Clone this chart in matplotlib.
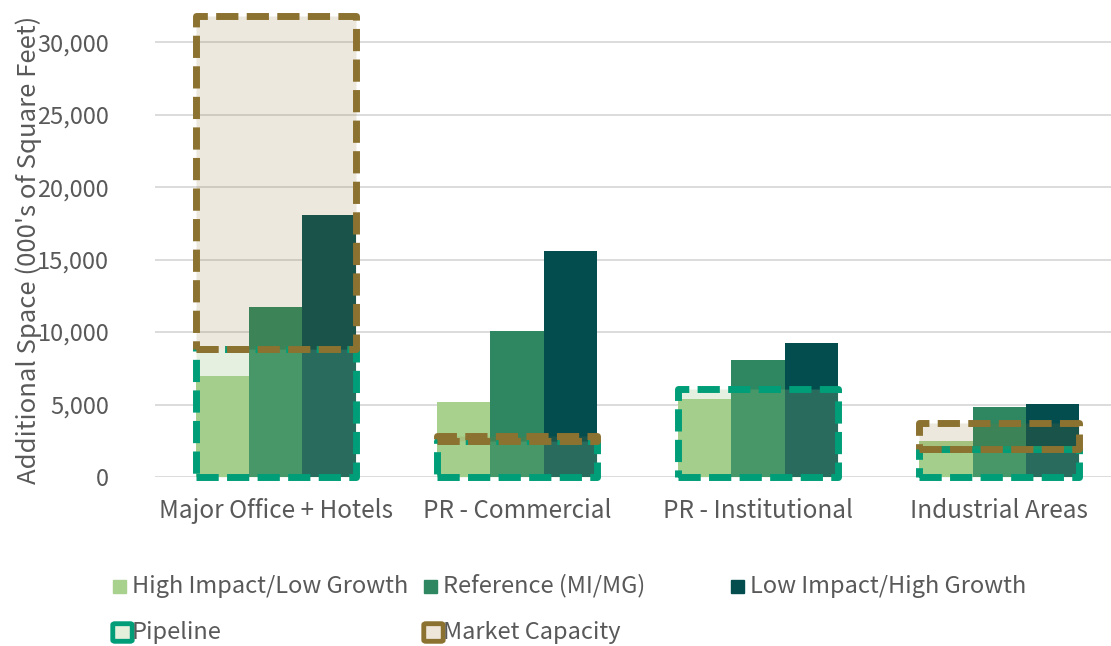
import numpy as np
import matplotlib.pyplot as plt
from matplotlib.patches import Rectangle, FancyBboxPatch

plt.rcParams['font.family'] = ['Noto Sans CJK JP', 'DejaVu Sans']

# dane
categories = ['Major Office + Hotels', 'PR - Commercial', 'PR - Institutional', 'Industrial Areas']
high_low = [7000, 5200, 5350, 2450]
reference = [11700, 10100, 8050, 4800]
low_high = [18100, 15600, 9250, 5050]
pipeline = [8800, 2450, 6100, 1900]
market_capacity = [23000, 400, 0, 1850]  # ułożone na pipeline

c_light = '#a9d18e'
c_ref = '#2e8760'
c_dark = '#044d4f'
c_pipe = '#009e78'
c_mc = '#8c7230'
txt = '#595959'
fs = 17

fig = plt.figure(figsize=(11.11, 6.46), dpi=100)
ax = fig.add_axes([155 / 1111, 169 / 646, 965 / 1111, 471 / 646])

x = np.arange(len(categories))
w = 0.221

ax.bar(x - w, high_low, w, color=c_light, zorder=2)
ax.bar(x, reference, w, color=c_ref, zorder=2)
ax.bar(x + w, low_high, w, color=c_dark, zorder=2)

dash = (0, (3.2, 1.2))
pb = ax.bar(x, pipeline, 3 * w, color=(0.60, 0.78, 0.52, 0.25), edgecolor=c_pipe,
            linewidth=5, linestyle=dash, zorder=3)
mb = ax.bar(x, market_capacity, 3 * w, bottom=pipeline, color=(0.55, 0.45, 0.19, 0.16),
            edgecolor=c_mc, linewidth=5, linestyle=dash, zorder=4)
for r in list(pb) + list(mb):
    r.set_clip_on(False)
    r.set_joinstyle('round')
for r, v in zip(mb, market_capacity):
    if v == 0:
        r.set_visible(False)

ax.set_xlim(-0.5, len(categories) - 0.5)
ax.set_ylim(0, 32500)
ax.set_yticks(range(0, 30001, 5000))
ax.set_yticklabels([f'{v:,}' for v in range(0, 30001, 5000)])
ax.set_xticks(x)
ax.set_xticklabels(categories)
ax.tick_params(axis='both', length=0, labelsize=fs, colors=txt)
ax.tick_params(axis='x', labelsize=17.5, pad=15)
ax.tick_params(axis='y', pad=33)
ax.grid(axis='y', color='#d9d9d9', linewidth=1.3, zorder=0)
ax.set_axisbelow(True)
for s in ax.spines.values():
    s.set_visible(False)
ax.set_ylabel("Additional Space (000's of Square Feet)", fontsize=18.5, color=txt)
ax.yaxis.set_label_coords(-113 / 965, 0.482)

# legenda rysowana ręcznie
def square(px, py, color):
    fig.patches.append(Rectangle((px / 1111, 1 - (py + 7) / 646), 13 / 1111, 13 / 646,
                                 color=color, transform=fig.transFigure))

def box(px, py, color, inner):
    fig.patches.append(FancyBboxPatch((px / 1111, 1 - (py + 8) / 646), 15 / 1111, 15 / 646,
                                      boxstyle='round,pad=0.002', facecolor=inner,
                                      edgecolor=color, linewidth=3.5, transform=fig.transFigure))

rows = [[('High Impact/Low Growth', c_light), ('Reference (MI/MG)', c_ref),
         ('Low Impact/High Growth', c_dark)],
        [('Pipeline', c_pipe), ('Market Capacity', c_mc)]]
cols = [113, 424, 731]
for i, (label, col) in enumerate(rows[0]):
    square(cols[i], 586, col)
    fig.text((cols[i] + 19) / 1111, 1 - 586 / 646, label, fontsize=fs, color=txt, va='center')
inners = ['#e4efdc', '#eee6d9']
for i, (label, col) in enumerate(rows[1]):
    box(cols[i] + 2, 632, col, inners[i])
    fig.text((cols[i] + 19) / 1111, 1 - 632 / 646, label, fontsize=fs, color=txt, va='center')

plt.savefig('out.png', dpi=100)
